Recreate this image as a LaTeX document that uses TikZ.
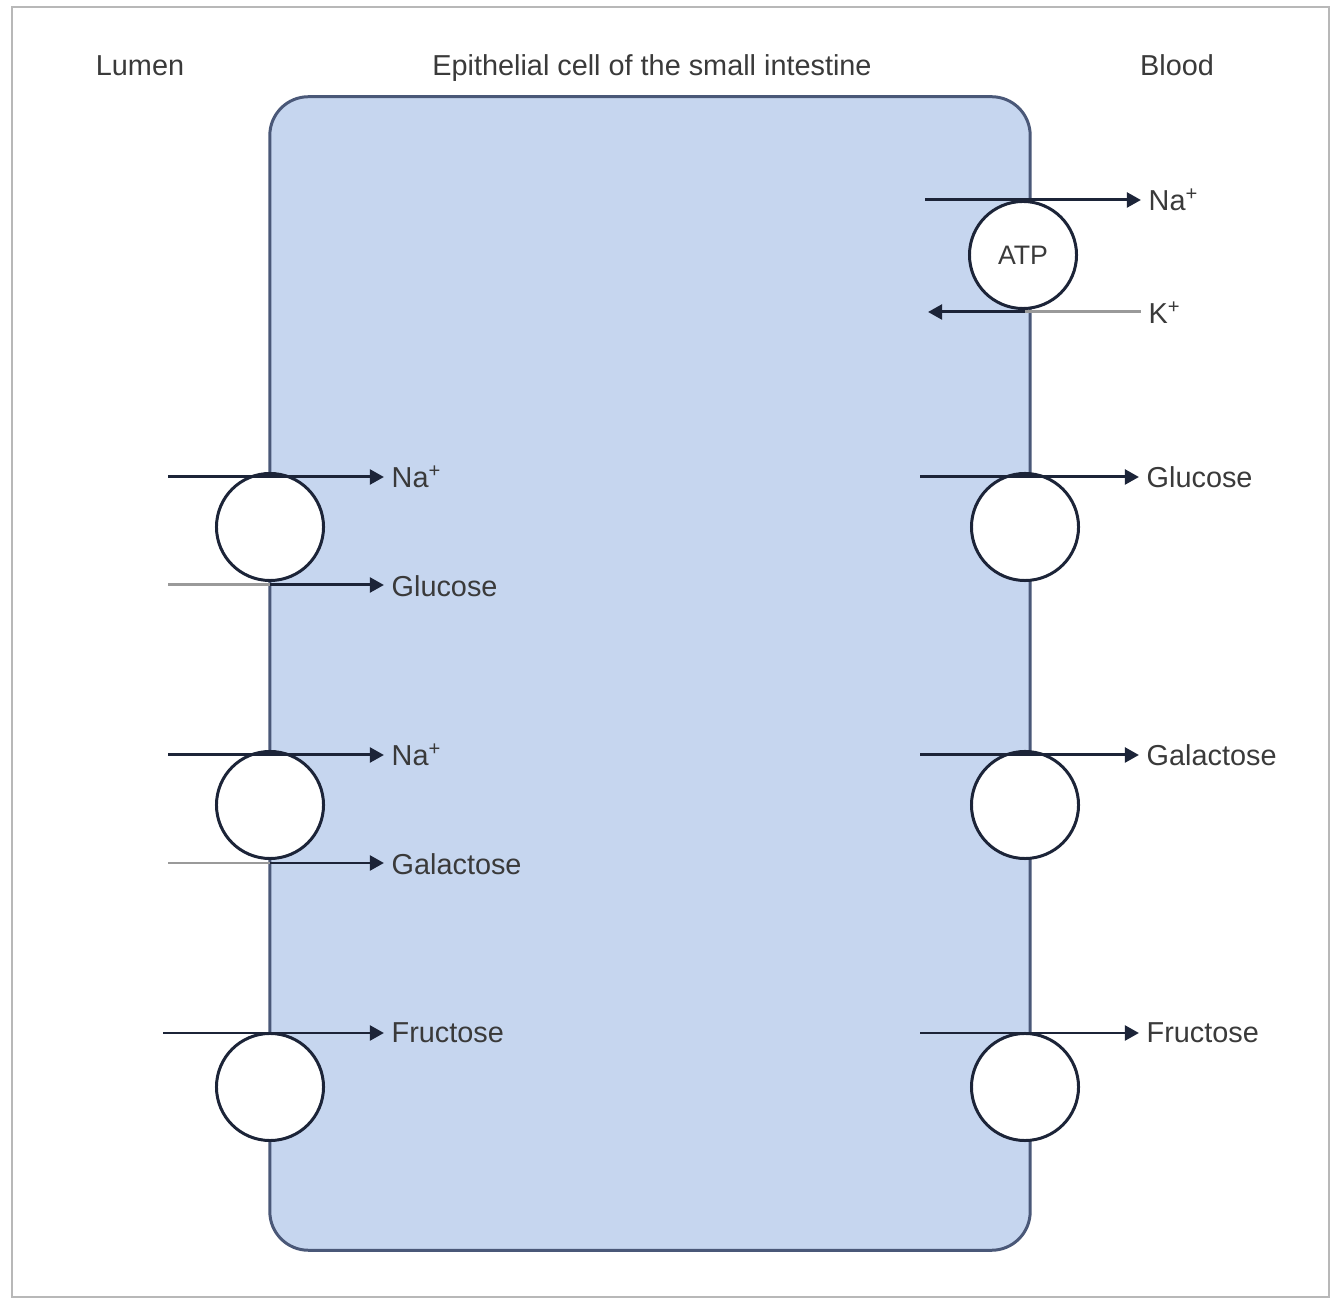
\documentclass[tikz,border=0pt]{standalone}
\usepackage{fontspec}
\setmainfont{Liberation Sans}
\usetikzlibrary{arrows.meta}
\definecolor{cellfill}{HTML}{C6D6EF}
\definecolor{celledge}{HTML}{4A5878}
\definecolor{arrowc}{HTML}{1C2438}
\definecolor{txt}{HTML}{3A3A3A}
\definecolor{outgray}{HTML}{9A9A9A}
\tikzset{
  lbl/.style={font=\fontsize{8.2}{10}\selectfont, text=txt, inner sep=0pt},
  carrier/.style={circle, draw=arrowc, line width=0.85pt, fill=white, minimum size=107*0.2845pt, inner sep=0pt, font=\fontsize{7.6}{9}\selectfont, text=txt},
  flow/.style={draw=arrowc, line width=0.85pt, -{Triangle[length=4pt,width=4.2pt]}},
  graypart/.style={draw=outgray, line width=0.85pt}
}
\begin{document}
\begin{tikzpicture}[x=0.01cm,y=-0.01cm]
\useasboundingbox (0,0) rectangle (1333,1301);
\fill[white] (0,0) rectangle (1333,1301);
% outer frame
\draw[draw=outgray!70, line width=0.6pt] (12,7) rectangle (1329,1297);
% cell
\node[draw=celledge, fill=cellfill, line width=0.85pt, rounded corners=11pt, minimum width=760*0.2845pt, minimum height=1153*0.2845pt, inner sep=0pt] (cell) at (650,673.5) {};
% headings
\node[lbl, anchor=base] (lumen) at (140,76) {Lumen};
\node[lbl, anchor=base] (epi) at (652,76) {Epithelial cell of the small intestine};
\node[lbl, anchor=base] (blood) at (1177,76) {Blood};
% carriers
\node[carrier] (L1) at (270,527) {};
\node[carrier] (L2) at (270,805) {};
\node[carrier] (L3) at (270,1087) {};
\node[carrier] (R0) at (1023,255) {ATP};
\node[carrier] (R1) at (1025,527) {};
\node[carrier] (R2) at (1025,805) {};
\node[carrier] (R3) at (1025,1087) {};
% labels
\node[lbl, anchor=west] (naL1) at (391,477) {Na\textsuperscript{+}};
\node[lbl, anchor=west] (glcL) at (391,586) {Glucose};
\node[lbl, anchor=west] (naL2) at (391,755) {Na\textsuperscript{+}};
\node[lbl, anchor=west] (galL) at (391,864) {Galactose};
\node[lbl, anchor=west] (fruL) at (391,1033) {Fructose};
\node[lbl, anchor=west] (naR) at (1148,200) {Na\textsuperscript{+}};
\node[lbl, anchor=west] (kR) at (1148,313) {K\textsuperscript{+}};
\node[lbl, anchor=west] (glcR) at (1146,477) {Glucose};
\node[lbl, anchor=west] (galR) at (1146,755) {Galactose};
\node[lbl, anchor=west] (fruR) at (1146,1033) {Fructose};
% start coordinates
\coordinate (sL1) at (168,477);
\coordinate (sL1g) at (168,585);
\coordinate (mL1g) at (270,585);
\coordinate (sL2) at (168,755);
\coordinate (sL2g) at (168,863);
\coordinate (mL2g) at (270,863);
\coordinate (sL3) at (163,1033);
\coordinate (sR0) at (925,200);
\coordinate (eK) at (928,312);
\coordinate (mK) at (1025,312);
\coordinate (sR1) at (920,477);
\coordinate (sR2) at (920,755);
\coordinate (sR3) at (920,1033);
% left arrows
\draw[flow] (sL1) -- ([xshift=-2pt]naL1.west);
\draw[graypart] (sL1g) -- (mL1g);
\draw[flow] (mL1g) -- ([xshift=-2pt]glcL.west |- mL1g);
\draw[flow] (sL2) -- ([xshift=-2pt]naL2.west);
\draw[graypart] (sL2g) -- (mL2g);
\draw[flow] (mL2g) -- ([xshift=-2pt]galL.west |- mL2g);
\draw[flow] (sL3) -- ([xshift=-2pt]fruL.west);
% right arrows
\draw[flow] (sR0) -- ([xshift=-2pt]naR.west |- sR0);
\draw[graypart] ([xshift=-2pt]kR.west |- eK) -- (mK);
\draw[flow] (mK) -- (eK);
\draw[flow] (sR1) -- ([xshift=-2pt]glcR.west |- sR1);
\draw[flow] (sR2) -- ([xshift=-2pt]galR.west |- sR2);
\draw[flow] (sR3) -- ([xshift=-2pt]fruR.west |- sR3);
\end{tikzpicture}
\end{document}
